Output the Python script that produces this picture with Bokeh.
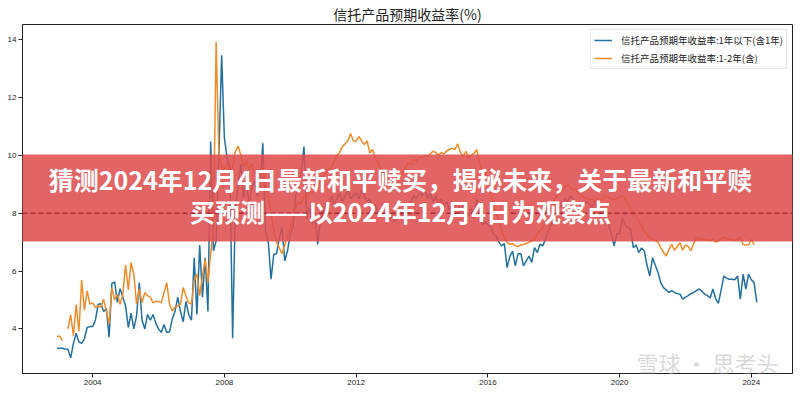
import pandas as pd
from bokeh.plotting import figure
from bokeh.models import (Range1d, FixedTicker, Label, BoxAnnotation, Span,
                          Legend, LegendItem)
from bokeh.embed import file_html
from bokeh.resources import INLINE

nan = float("nan")

# ---- data (monthly, from 2002-12 to 2024-03) ----
first_month = "2002-12-01"
series_short_name = "信托产品预期年收益率:1年以下(含1年)"
series_mid_name = "信托产品预期年收益率:1-2年(含)"

yield_short = (
    [3.32]                                                                      # 2002-12
    + [3.33, 3.33, 3.31, 3.30, 3.00, 3.50, 3.85, 3.55, 3.50, 3.66, 4.05, 4.08]  # 2003
    + [4.08, 4.30, 4.85, 4.87, 4.60, 4.70, 3.71, 5.57, 5.63, 4.92, 5.39, 5.10]  # 2004
    + [4.80, 4.05, 4.55, 4.00, 4.45, 5.60, 4.30, 4.00, 4.50, 4.30, 4.50, 4.20]  # 2005
    + [4.00, 3.88, 4.15, 3.88, 3.90, 4.34, 4.60, 5.10, 4.60, 4.25, 4.95, 4.50]  # 2006
    + [4.30, 6.46, 4.50, 6.90, 5.10, 6.46, 4.60, 10.48, 6.70, 7.04, 10.0, 13.46]  # 2007
    + [10.6, 9.90, 9.56, 3.68, 8.18, 8.90, 9.70, 8.53, 9.10, 8.30, 8.90, 9.10]  # 2008
    + [8.60, 8.87, 10.42, 7.38, 7.00, 5.72, 6.58, 6.60, 7.15, 7.50, 6.35, 6.70]  # 2009
    + [7.28, 7.50, 8.65, 9.00, 9.40, 10.3, 7.80, 8.20, 7.60, 7.90, 6.92, 7.80]  # 2010
    + [8.00, 8.40, 8.20, 8.60, 8.30, 8.50, 8.70, 8.40, 8.60, 8.80, 8.50, 8.60]  # 2011
    + [8.70, 8.50, 8.80, 8.60, 8.40, 8.50, 8.20, 8.30, 8.00, 8.10, 7.90, 8.00]  # 2012
    + [7.80, 7.90, 7.70, 7.80, 8.00, 7.90, 8.20, 8.30, 8.40, 8.60, 8.50, 8.70]  # 2013
    + [8.60, 8.80, 8.50, 8.70, 8.40, 8.60, 8.30, 8.50, 8.20, 8.40, 8.10, 8.30]  # 2014
    + [8.20, 8.40, 8.00, 8.30, 8.10, 7.90, 8.20, 7.80, 8.50, 7.90, 7.60, 7.70]  # 2015
    + [7.60, 7.50, 7.30, 7.20, 7.00, 6.87, 6.95, 6.12, 6.50, 6.69, 6.18, 6.60]  # 2016
    + [6.60, 6.18, 6.35, 6.52, 6.30, 6.81, 6.64, 6.93, 6.87, 7.10, 7.40, 7.60]  # 2017
    + [7.80, 8.00, 8.20, 8.30, 8.50, 8.40, 8.60, 8.50, 8.30, 8.40, 8.20, 8.30]  # 2018
    + [8.40, 8.30, 8.20, 8.40, 8.10, 8.20, 8.00, 7.90, 7.60, 7.30, 6.87, 7.30]  # 2019
    + [7.30, 7.84, 7.60, 7.50, 7.45, 6.81, 6.90, 6.64, 6.80, 6.69, 6.20, 5.83]  # 2020
    + [6.46, 6.20, 5.95, 5.60, 5.43, 5.35, 5.26, 5.32, 5.26, 5.22, 5.20, 5.03]  # 2021
    + [5.10, 5.15, 5.22, 5.26, 5.32, 5.38, 5.30, 5.20, 5.15, 5.07, 5.38, 5.05]  # 2022
    + [4.88, 5.35, 5.83, 5.75, 5.72, 5.72, 5.70, 5.83, 5.03, 5.89, 5.38, 5.89]  # 2023
    + [5.70, 5.60, 4.92]                                                        # 2024
)

yield_mid = (
    [3.75]                                                                      # 2002-12
    + [3.75, 3.60, nan, 4.00, 4.49, 3.77, 4.84, 3.92, 5.69, 4.65, 5.32, 4.86]   # 2003
    + [4.90, 4.74, 4.80, 4.76, 5.03, 4.60, 4.18, 5.43, 5.00, 5.20, 4.85, 5.20]  # 2004
    + [6.21, 5.35, 6.29, 5.90, 4.86, 5.38, 4.90, 5.26, 5.15, 5.10, 4.90, 4.95]  # 2005
    + [4.95, 4.90, 5.26, 5.60, 4.86, 4.62, 4.75, 4.80, 4.86, 5.43, 5.15, 4.90]  # 2006
    + [4.86, 5.66, 5.90, 5.15, 5.83, 6.40, 5.60, 6.60, 7.50, 13.92, 10.0, 9.60]  # 2007
    + [9.50, 9.70, 9.40, 9.60, 10.14, 10.31, 10.0, 9.60, 9.80, 9.50, 9.70, 9.40]  # 2008
    + [9.50, 9.30, 9.60, 9.00, 8.60, 8.00, 7.40, 7.00, 6.80, 6.60, 6.90, 7.20]  # 2009
    + [7.50, 7.90, 8.20, 8.40, 8.30, 8.60, 8.50, 8.80, 8.70, 9.00, 8.90, 9.20]  # 2010
    + [9.30, 9.40, 9.50, 9.60, 9.79, 10.0, 10.1, 10.3, 10.4, 10.5, 10.75, 10.5]  # 2011
    + [10.48, 10.65, 10.5, 10.37, 10.5, 10.08, 10.2, 9.90, 9.73, 9.56, 9.30, 9.10]  # 2012
    + [9.00, 9.10, 8.95, 9.05, 9.20, 9.40, 9.60, 9.73, 9.70, 9.85, 9.80, 9.95]  # 2013
    + [9.90, 10.0, 9.95, 10.05, 10.14, 10.1, 10.0, 10.1, 10.05, 10.15, 10.2, 10.25]  # 2014
    + [10.2, 10.4, 10.1, 9.96, 10.14, 9.90, 10.0, 10.08, 10.2, 9.68, 9.50, 9.40]  # 2015
    + [9.10, 8.70, 8.30, 8.00, 7.73, 7.40, 7.15, 7.00, 6.92, 6.95, 6.87, 6.85]  # 2016
    + [6.90, 6.92, 6.95, 7.00, 7.04, 7.10, 7.27, 7.40, 7.50, 7.70, 7.96, 8.20]  # 2017
    + [8.40, 8.60, 8.70, 8.80, 8.90, 9.00, 8.90, 8.80, 8.85, 8.70, 8.60, 8.55]  # 2018
    + [8.50, 8.45, 8.50, 8.40, 8.50, 8.45, 8.50, 8.60, 8.55, 8.50, 8.45, 8.50]  # 2019
    + [8.55, 8.59, 8.50, 8.35, 8.18, 8.00, 7.90, 7.73, 7.55, 7.38, 7.25, 7.15]  # 2020
    + [7.10, 7.05, 7.00, 6.81, 6.65, 6.52, 6.75, 6.92, 6.72, 6.85, 6.98, 6.72]  # 2021
    + [6.90, 6.85, 6.70, 6.95, 7.15, 7.10, 7.12, 7.08, 7.10, 7.05, 7.10, 7.00]  # 2022
    + [7.04, 7.10, 7.17, 7.12, 7.10, 7.10, 7.05, 7.10, 7.17, 6.92, 6.90, 6.90]  # 2023
    + [7.10, 6.90, nan]                                                         # 2024
)

year_ticks = [2004, 2008, 2012, 2016, 2020, 2024]
rate_ticks = [4, 6, 8, 10, 12, 14]
reference_rate = 8

chart_title = "信托产品预期收益率(%)"
banner_line1 = "猜测2024年12月4日最新和平赎买，揭秘未来，关于最新和平赎"
banner_line2 = "买预测——以2024年12月4日为观察点"
watermark = "雪球 · 思考头"

# ---- x positions (decimal years) ----
months = pd.date_range(first_month, periods=len(yield_short), freq="MS")
xs = [d.year + (d.month - 1) / 12.0 for d in months]

BLUE = "#23709f"
ORANGE = "#ee8c2a"
CJK = "Noto Sans CJK SC"

p = figure(width=800, height=396, output_backend="svg", toolbar_location=None,
           x_range=Range1d(2001.87, 2025.25), y_range=Range1d(2.46, 14.52),
           min_border_left=22, min_border_right=8, min_border_top=23,
           min_border_bottom=23)

p.title.text = chart_title
p.title.align = "center"
p.title.text_font = CJK
p.title.text_font_size = "14px"
p.title.text_font_style = "normal"
p.title.text_color = "#222222"
p.title.standoff = 2

p.background_fill_color = "white"
p.border_fill_color = "white"
p.outline_line_color = "#222222"
p.outline_line_width = 1
p.grid.visible = False

for ax in (p.xaxis[0], p.yaxis[0]):
    ax.axis_line_color = "#222222"
    ax.major_tick_line_color = "#222222"
    ax.major_tick_in = 0
    ax.major_tick_out = 4
    ax.minor_tick_line_color = None
    ax.major_label_text_font = "Liberation Sans"
    ax.major_label_text_font_size = "8px"
    ax.major_label_text_color = "#222222"
    ax.major_label_standoff = 2

p.xaxis[0].ticker = FixedTicker(ticks=year_ticks)
p.yaxis[0].ticker = FixedTicker(ticks=rate_ticks)

r1 = p.line(xs, yield_short, line_color=BLUE, line_width=1.5)
r2 = p.line(xs, yield_mid, line_color=ORANGE, line_width=1.5)

legend = Legend(items=[LegendItem(label=series_short_name, renderers=[r1]),
                       LegendItem(label=series_mid_name, renderers=[r2])],
                location="top_right")
legend.label_text_font = CJK
legend.label_text_font_size = "9.5px"
legend.label_text_color = "#222222"
legend.label_height = 10
legend.glyph_height = 10
legend.glyph_width = 18
legend.label_standoff = 9
legend.spacing = 4
legend.padding = 3
legend.margin = 5
legend.border_line_color = "#cccccc"
legend.border_line_width = 1
legend.background_fill_alpha = 0.9
p.add_layout(legend)

# banner overlay (screen units relative to the frame's bottom-left corner)
p.add_layout(BoxAnnotation(left=-60, right=900, bottom=132, top=219,
                           left_units="screen", right_units="screen",
                           bottom_units="screen", top_units="screen",
                           fill_color="#de4f4f", fill_alpha=0.88,
                           line_color=None))

p.add_layout(Span(location=reference_rate, dimension="width",
                  line_color="#a82c38", line_dash="5 3", line_width=1.5))

for txt, yy in ((banner_line1, 195), (banner_line2, 162.5)):
    p.add_layout(Label(x=378, y=yy, x_units="screen", y_units="screen",
                       text=txt, text_align="center", text_baseline="middle",
                       text_font=CJK, text_font_style="bold",
                       text_font_size="25px", text_color="white"))

p.add_layout(Label(x=685, y=12, x_units="screen", y_units="screen",
                   text=watermark, text_align="center", text_baseline="middle",
                   text_font=CJK, text_font_size="22px",
                   text_color="#c8c8c8", text_alpha=0.7))

open("out.html", "w").write(file_html(p, INLINE))
